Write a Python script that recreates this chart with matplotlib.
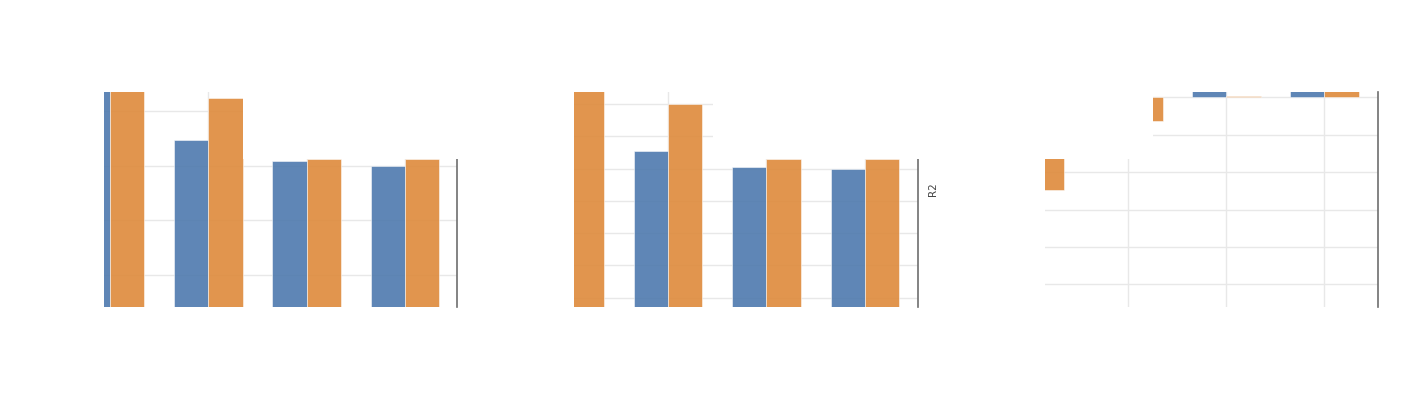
import numpy as np
import matplotlib
matplotlib.use("Agg")
import matplotlib.pyplot as plt
from matplotlib.patches import Rectangle

W, H = 1412, 416

categories = ["c1", "c2", "c3", "c4"]

# panel 1
p1_blue = [0.46, 0.347, 0.309, 0.299]
p1_orange = [0.47, 0.424, 0.312, 0.312]
p1_ticks = [0.1, 0.2, 0.3, 0.4]

# panel 2 (R2)
p2_blue = [0.75, 0.555, 0.504, 0.499]
p2_orange = [0.75, 0.701, 0.529, 0.529]
p2_ticks = [0.1, 0.2, 0.3, 0.4, 0.5, 0.6, 0.7]

# panel 3
p3_blue = [-1.0, -0.5, 0.3, 0.3]
p3_orange = [-2.48, -0.63, 0.03, 0.3]
p3_ticks = [0, -1, -2, -3, -4, -5]

BLUE = "#4e79ae"
ORANGE = "#de8a3b"


def px_box(x0, y0, x1, y1):
    return [x0 / W, 1 - y1 / H, (x1 - x0) / W, (y1 - y0) / H]


def panel(fig, box, xlim, ylim, blue, orange, ticks):
    ax = fig.add_axes(px_box(*box))
    x = np.arange(len(categories))
    w = 0.35
    ax.bar(x - w / 2, blue, w, color=BLUE, alpha=0.9, zorder=2,
           edgecolor="white", linewidth=0.4)
    ax.bar(x + w / 2, orange, w, color=ORANGE, alpha=0.9, zorder=2,
           edgecolor="white", linewidth=0.4)
    # ticks first: set_xticks would widen the view otherwise
    ax.set_xticks(x)
    ax.set_yticks(ticks)
    ax.set_xlim(*xlim)
    ax.set_ylim(*ylim)
    ax.grid(True, color="#e8e8e8", lw=1, zorder=0)
    ax.set_axisbelow(True)
    ax.tick_params(length=0, labelbottom=False, labelleft=False)
    for s in ("left", "top", "bottom"):
        ax.spines[s].set_visible(False)
    ax.spines["right"].set_color("#6e6e6e")
    ax.spines["right"].set_linewidth(1.2)
    return ax


fig = plt.figure(figsize=(W / 100, H / 100), dpi=100)

panel(fig, (104, 92, 457, 307), (-0.061, 3.529), (0.0415, 0.4348),
      p1_blue, p1_orange, p1_ticks)
panel(fig, (574, 92, 918, 307), (0.046, 3.538), (0.0711, 0.738),
      p2_blue, p2_orange, p2_ticks)
panel(fig, (1045, 92, 1378, 307), (0.153, 3.545), (-5.607, 0.147),
      p3_blue, p3_orange, p3_ticks)

fig.text(933 / W, 1 - 189 / H, "R2", rotation=90, fontsize=7.5,
         color="#444444", ha="center", va="center")

# tiles that did not render in the original
for x0, y0, x1, y1 in [(243, 80, 470, 159), (713, 80, 930, 159),
                       (1040, 80, 1153, 159)]:
    fig.add_artist(Rectangle((x0 / W, 1 - y1 / H), (x1 - x0) / W,
                             (y1 - y0) / H, transform=fig.transFigure,
                             facecolor="white", edgecolor="none", zorder=10))

fig.savefig("out.png", dpi=100)
